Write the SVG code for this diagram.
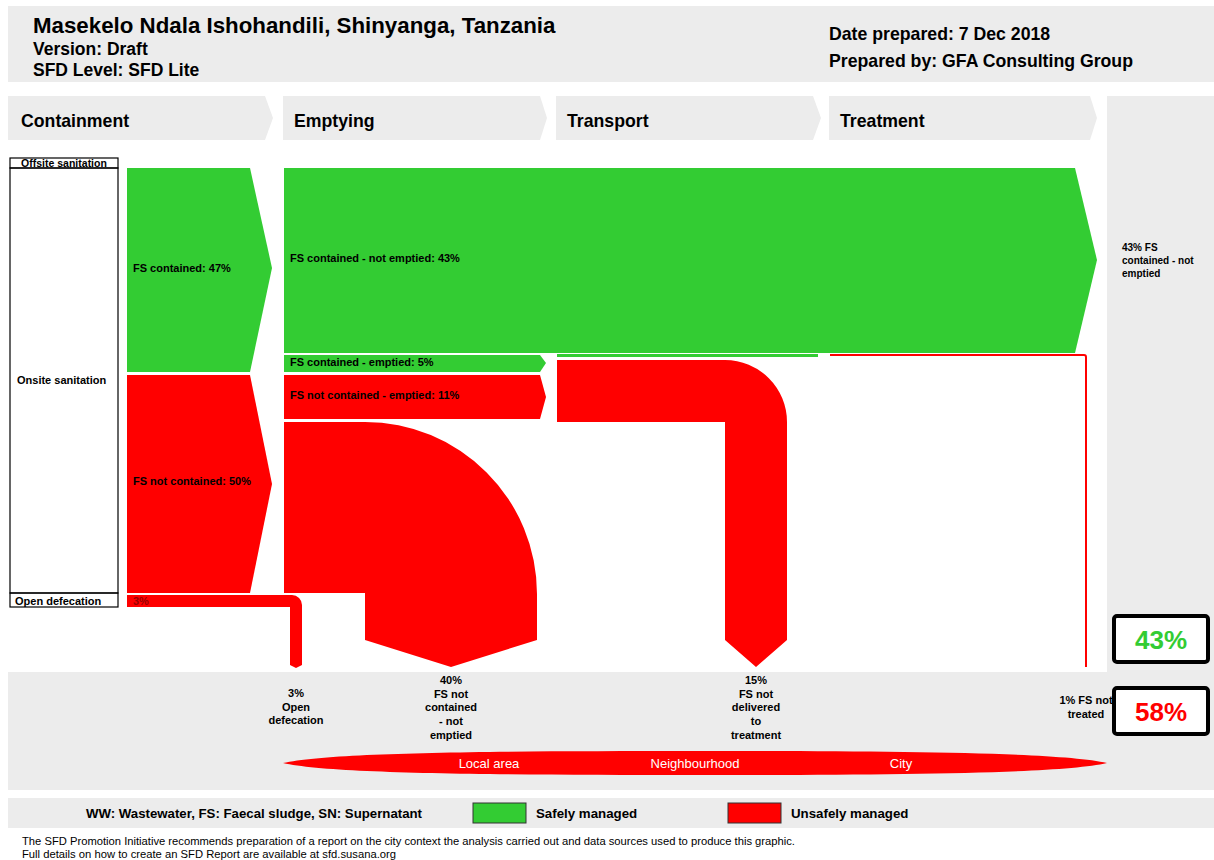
<svg xmlns="http://www.w3.org/2000/svg" width="1214" height="860" viewBox="0 0 1214 860">
<style>
.b{font-family:"Liberation Sans",Arial,sans-serif;font-weight:bold;fill:#000}
.r{font-family:"Liberation Sans",Arial,sans-serif;fill:#000}
.grey{fill:#ececec}
.g{fill:#33cc33}
.red{fill:#ff0000}
.lbl{font-size:11px}
.stage{font-size:17.7px}
.bot{font-size:11px;text-anchor:middle}
.zone{font-size:13px;fill:#fff;text-anchor:middle}
.box{fill:#fff;stroke:#000;stroke-width:4}
</style>
<rect width="1214" height="860" fill="#fff"/>
<g id="header">
<rect class="grey" x="8" y="6" width="1206" height="76"/>
<text class="b" x="33" y="33" font-size="22.3">Masekelo Ndala Ishohandili, Shinyanga, Tanzania</text>
<text class="b" x="33" y="55" font-size="17.5">Version: Draft</text>
<text class="b" x="33" y="76" font-size="17.5">SFD Level: SFD Lite</text>
<text class="b" x="829" y="40" font-size="17.7">Date prepared: 7 Dec 2018</text>
<text class="b" x="829" y="67" font-size="17.7">Prepared by: GFA Consulting Group</text>
</g>
<g id="stages">
<g id="stage-containment"><path class="grey" d="M8,96H265L273,118L265,140H8Z"/><text class="b stage" x="21" y="127">Containment</text></g>
<g id="stage-emptying"><path class="grey" d="M283,96H540L547,118L540,140H283Z"/><text class="b stage" x="294" y="127">Emptying</text></g>
<g id="stage-transport"><path class="grey" d="M556,96H813L821,118L813,140H556Z"/><text class="b stage" x="567" y="127">Transport</text></g>
<g id="stage-treatment"><path class="grey" d="M829,96H1090L1097,118L1090,140H829Z"/><text class="b stage" x="840" y="127">Treatment</text></g>
</g>
<g id="right-column">
<rect class="grey" x="1107" y="96" width="107" height="576"/>
<text class="b" font-size="10" x="1122" y="251">43% FS</text>
<text class="b" font-size="10" x="1122" y="264">contained - not</text>
<text class="b" font-size="10" x="1122" y="277">emptied</text>
</g>
<g id="bottom-band">
<rect class="grey" x="8" y="672" width="1206" height="118"/>
</g>
<g id="left-labels" fill="none" stroke="#000" stroke-width="1.2">
<rect x="10" y="158" width="108" height="10"/>
<rect x="10" y="168" width="108" height="425"/>
<rect x="10" y="593" width="108" height="14"/>
</g>
<text class="b" x="64" y="167" font-size="10.5" text-anchor="middle">Offsite sanitation</text>
<text class="b lbl" x="17" y="384">Onsite sanitation</text>
<text class="b lbl" x="15" y="605">Open defecation</text>
<g id="connectors">
<g id="fs-contained"><path class="g" d="M127,168H250L272,268L250,372H127Z"/><text class="b lbl" x="133" y="272">FS contained: 47%</text></g>
<g id="fs-not-contained"><path class="red" d="M127,375H250L272,484L250,593H127Z"/><text class="b lbl" x="133" y="485">FS not contained: 50%</text></g>
<g id="open-defecation"><path class="red" d="M127,595H292A10,10 0 0 1 302,605V665L296,668L290,665V607H127Z"/><text class="b lbl" x="133" y="605" style="fill:#990000">3%</text></g>
<g id="fs-not-emptied"><path class="g" d="M284,168H1075L1097,260L1075,353H284Z"/><text class="b lbl" x="290" y="262">FS contained - not emptied: 43%</text></g>
<g id="fs-contained-emptied"><path class="g" d="M284,355H540L546,363L540,372H284Z"/><text class="b lbl" x="290" y="366">FS contained - emptied: 5%</text></g>
<g id="fs-not-contained-emptied"><path class="red" d="M284,375H540L546,397L540,419H284Z"/><text class="b lbl" x="290" y="399">FS not contained - emptied: 11%</text></g>
<g id="fs-not-contained-not-emptied"><path class="red" d="M284,422H365A172,172 0 0 1 537,594V640L451,667L365,640V593H284Z"/></g>
<g id="transport-green"><rect class="g" x="557" y="354" width="261" height="3"/></g>
<g id="transport-red"><path class="red" d="M557,360H725A62,62 0 0 1 787,422V640L756,667L725,640V422H557Z"/></g>
<g id="treatment-red"><path d="M830,355H1084Q1086,355 1086,357V667" fill="none" stroke="#ff0000" stroke-width="2"/></g>
</g>
<g id="bottom-labels">
<text class="b bot" x="296" y="697">3%</text>
<text class="b bot" x="296" y="711">Open</text>
<text class="b bot" x="296" y="724">defecation</text>
<text class="b bot" x="451" y="684">40%</text>
<text class="b bot" x="451" y="698">FS not</text>
<text class="b bot" x="451" y="711">contained</text>
<text class="b bot" x="451" y="725">- not</text>
<text class="b bot" x="451" y="739">emptied</text>
<text class="b bot" x="756" y="684">15%</text>
<text class="b bot" x="756" y="698">FS not</text>
<text class="b bot" x="756" y="711">delivered</text>
<text class="b bot" x="756" y="725">to</text>
<text class="b bot" x="756" y="739">treatment</text>
<text class="b bot" x="1086" y="704">1% FS not</text>
<text class="b bot" x="1086" y="718">treated</text>
</g>
<g id="zones">
<path class="red" d="M283,763C330,752 500,751 695,751C890,751 1060,752 1107,763C1060,774 890,775 695,775C500,775 330,774 283,763Z"/>
<text class="r zone" x="489" y="768">Local area</text>
<text class="r zone" x="695" y="768">Neighbourhood</text>
<text class="r zone" x="901" y="768">City</text>
</g>
<g id="safe-box">
<rect class="box" x="1114" y="616" width="94" height="46" rx="3"/>
<text class="b" x="1161" y="649" font-size="26" text-anchor="middle" style="fill:#33cc33">43%</text>
</g>
<g id="unsafe-box">
<rect class="box" x="1114" y="688" width="94" height="46" rx="3"/>
<text class="b" x="1161" y="721" font-size="26" text-anchor="middle" style="fill:#ff0000">58%</text>
</g>
<g id="legend">
<rect class="grey" x="8" y="798" width="1206" height="30"/>
<text class="b" x="86" y="818" font-size="13.3" textLength="336" lengthAdjust="spacingAndGlyphs">WW: Wastewater, FS: Faecal sludge, SN: Supernatant</text>
<rect x="473" y="803" width="53" height="20" fill="#33cc33" stroke="#333" stroke-width="1"/>
<text class="b" x="536" y="818" font-size="13.3">Safely managed</text>
<rect x="728" y="803" width="53" height="20" fill="#ff0000" stroke="#333" stroke-width="1"/>
<text class="b" x="791" y="818" font-size="13.3">Unsafely managed</text>
</g>
<g id="footer">
<text class="r" x="22" y="845" font-size="10.5" textLength="773" lengthAdjust="spacingAndGlyphs">The SFD Promotion Initiative recommends preparation of a report on the city context the analysis carried out and data sources used to produce this graphic.</text>
<text class="r" x="22" y="858" font-size="10.5" textLength="374" lengthAdjust="spacingAndGlyphs">Full details on how to create an SFD Report are available at sfd.susana.org</text>
</g>
</svg>
